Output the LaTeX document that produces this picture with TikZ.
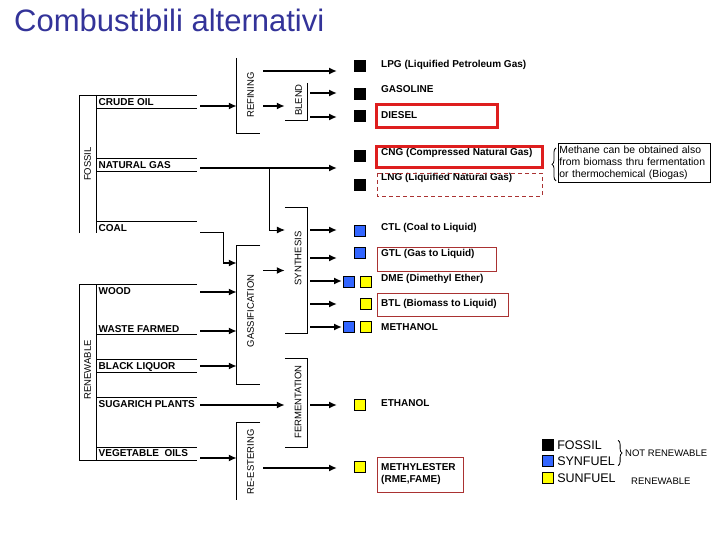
\documentclass[tikz,border=0pt]{standalone}
\usepackage{fontspec}
\setmainfont{Liberation Sans}
\usepackage{tikz}
\usepackage{xcolor}
\usetikzlibrary{arrows.meta,positioning,decorations.pathreplacing}

\definecolor{titleblue}{RGB}{51,51,153}
\definecolor{synblue}{RGB}{51,102,255}
\definecolor{sunyellow}{RGB}{255,255,0}
\definecolor{markred}{RGB}{222,30,30}
\definecolor{darkred}{RGB}{170,50,50}

\begin{document}
\begin{tikzpicture}[
    x=1pt, y=-1pt,
    srctext/.style={anchor=west, inner sep=0pt, text height=7.2pt, text depth=0pt, font=\fontsize{10}{12}\selectfont\bfseries},
    prodtext/.style={srctext},
    vlabel/.style={rotate=90, inner sep=0pt, text height=6.8pt, text depth=0pt, font=\fontsize{9.5}{11}\selectfont},
    keytext/.style={anchor=west, inner sep=0pt, text height=8.9pt, text depth=0pt, font=\fontsize{12.5}{14}\selectfont},
    tagtext/.style={anchor=west, inner sep=0pt, text height=6.8pt, text depth=0pt, font=\fontsize{9.5}{11}\selectfont},
    proc/.style={rectangle, inner sep=0pt},
    note/.style={rectangle, draw, line width=0.8pt, text width=150pt, minimum height=39pt, inner sep=1pt, align=left, font=\fontsize{10.4}{12}\selectfont},
    rule/.style={draw, line width=0.8pt},
    line/.style={draw, line width=1.7pt, -{Latex[length=8pt,width=7pt]}, shorten <=3pt},
    fossilbox/.style={rectangle, draw=black, fill=black, line width=0.6pt, minimum size=11.5pt, inner sep=0pt},
    synbox/.style={fossilbox, fill=synblue},
    sunbox/.style={fossilbox, fill=sunyellow},
    hilite/.style={draw=markred, line width=3pt},
    thinmark/.style={draw=darkred, line width=0.8pt},
    brace/.style={draw, line width=0.8pt, decorate, decoration={brace, amplitude=4pt}}
]
\useasboundingbox (0,0) rectangle (720,540);

\node [anchor=base west, inner sep=0pt, text=titleblue, font=\fontsize{31}{36}\selectfont] (title) at (14,32) {Combustibili alternativi};

% sources
\path [rule] (79,233) -- (79,95) -- (197,95);
\path [rule] (96,95) -- (96,233);
\foreach \y in {108,158,171,221}
    \path [rule] (96,\y) -- (197,\y);
\path [rule] (197,284) -- (79,284) -- (79,460) -- (197,460);
\path [rule] (96,284) -- (96,460);
\foreach \y in {334,359,372,397,447}
    \path [rule] (96,\y) -- (197,\y);

\node [vlabel] (fossil) at (87.5,164) {FOSSIL};
\node [vlabel] (renew) at (87.5,370) {RENEWABLE};

\node [srctext] (crude) at (98.5,102) {CRUDE OIL};
\node [srctext] (natgas) at (98.5,165) {NATURAL GAS};
\node [srctext] (coal) at (98.5,228) {COAL};
\node [srctext] (wood) at (98.5,291) {WOOD};
\node [srctext] (waste) at (98.5,329) {WASTE FARMED};
\node [srctext] (liquor) at (98.5,366) {BLACK LIQUOR};
\node [srctext] (sugar) at (98.5,404) {SUGARICH PLANTS};
\node [srctext] (vegoil) at (98.5,453) {VEGETABLE\ \ OILS};

\coordinate (crude-out) at (197,106);
\coordinate (natgas-out) at (197,168);
\coordinate (coal-out) at (197,232);
\coordinate (wood-out) at (197,292);
\coordinate (waste-out) at (197,331);
\coordinate (liquor-out) at (197,366);
\coordinate (sugar-out) at (197,405);
\coordinate (vegoil-out) at (197,458);

% processes
\node [proc, minimum width=23pt, minimum height=75pt] (refining) at (248.5,95.5) {};
\node [proc, minimum width=22pt, minimum height=37pt] (blend) at (296,101.5) {};
\node [proc, minimum width=22pt, minimum height=125pt] (synth) at (296,270.5) {};
\node [proc, minimum width=23pt, minimum height=138pt] (gasif) at (248.5,315) {};
\node [proc, minimum width=22pt, minimum height=88pt] (ferm) at (296,403) {};
\node [proc, minimum width=23pt, minimum height=77pt] (reester) at (248.5,461.5) {};

\node [vlabel] (refining-lbl) at (250.5,95) {REFINING};
\node [vlabel] (blend-lbl) at (298.5,100) {BLEND};
\node [vlabel] (synth-lbl) at (298,258.5) {SYNTHESIS};
\node [vlabel] (gasif-lbl) at (250.5,311) {GASSIFICATION};
\node [vlabel] (ferm-lbl) at (298,402) {FERMENTATION};
\node [vlabel] (reester-lbl) at (250.5,462) {RE-ESTERING};

\path [rule] (refining.north west) |- (refining.south east);
\path [rule] (blend.north east) |- (blend.south west);
\path [rule] (synth.north west) -| (synth.south east) -- (synth.south west);
\path [rule] (gasif.north east) -| (gasif.south west) -- (gasif.south east);
\path [rule] (ferm.north west) -| (ferm.south east) -- (ferm.south west);
\path [rule] (reester.north east) -| (reester.south west);

% products
\node [fossilbox] (sq-lpg) at (360,66) {};
\node [fossilbox] (sq-gasoline) at (360,94) {};
\node [fossilbox] (sq-diesel) at (360,116) {};
\node [fossilbox] (sq-cng) at (360,156) {};
\node [fossilbox] (sq-lng) at (360,185) {};
\node [synbox] (sq-ctl) at (360,231) {};
\node [synbox] (sq-gtl) at (360,253) {};
\node [synbox] (sq-dme) at (349,282) {};
\node [sunbox] (sq-dme2) at (366,282) {};
\node [sunbox] (sq-btl) at (366,304) {};
\node [synbox] (sq-methanol) at (349,327) {};
\node [sunbox] (sq-methanol2) at (366,327) {};
\node [sunbox] (sq-ethanol) at (360,405) {};
\node [sunbox] (sq-mester) at (360,467) {};

\node [prodtext] (lpg) at (381,64) {LPG (Liquified Petroleum Gas)};
\node [prodtext] (gasoline) at (381,89) {GASOLINE};
\node [prodtext] (diesel) at (381,115) {DIESEL};
\node [prodtext] (cng) at (381,152) {CNG (Compressed Natural Gas)};
\node [prodtext] (lng) at (381,177) {LNG (Liquified Natural Gas)};
\node [prodtext] (ctl) at (381,227) {CTL (Coal to Liquid)};
\node [prodtext] (gtl) at (381,253) {GTL (Gas to Liquid)};
\node [prodtext] (dme) at (381,278) {DME (Dimethyl Ether)};
\node [prodtext] (btl) at (381,303) {BTL (Biomass to Liquid)};
\node [prodtext] (methanol) at (381,327) {METHANOL};
\node [prodtext] (ethanol) at (381,403) {ETHANOL};
\node [prodtext, anchor=north west, text height=, align=left] (mester) at (381,463) {METHYLESTER\\(RME,FAME)};

\path [hilite] (376,105) rectangle (497,128);
\path [hilite] (376,147) rectangle (542,168);
\path [thinmark, dash pattern=on 4pt off 3pt] (377,173) rectangle (542,196);
\path [thinmark] (377,247) rectangle (496,271);
\path [thinmark] (377,293) rectangle (508,316);
\path [thinmark] (377,457) rectangle (463,492);

\coordinate (lpg-in) at (337,71);
\coordinate (gasoline-in) at (337,93);
\coordinate (diesel-in) at (337,117);
\coordinate (natgas-in) at (337,168);
\coordinate (ctl-in) at (337,230);
\coordinate (gtl-in) at (337,258);
\coordinate (dme-in) at (342,281);
\coordinate (btl-in) at (337,304);
\coordinate (methanol-in) at (342,327);
\coordinate (ethanol-in) at (337,405);
\coordinate (mester-in) at (337,468);

% connectors
\path [line] (crude-out) -- (crude-out -| refining.west);
\path [line] (refining.east |- lpg-in) -- (lpg-in);
\path [line] (refining.east |- crude-out) -- (blend.west |- crude-out);
\path [line] (blend.east |- gasoline-in) -- (gasoline-in);
\path [line] (blend.east |- diesel-in) -- (diesel-in);

\path [line] (natgas-out) -- (natgas-in);
\coordinate (natgas-split) at (269,168);
\path [line, line width=0.8pt, shorten <=0pt] (natgas-split) |- (synth.west |- ctl-in);

\coordinate (coal-bend) at (223,263);
\path [rule, shorten <=3pt] (coal-out) -| (coal-bend);
\path [line, shorten <=0pt] (coal-bend) -- (coal-bend -| gasif.west);
\path [line] (wood-out) -- (wood-out -| gasif.west);
\path [line] (waste-out) -- (waste-out -| gasif.west);
\path [line] (liquor-out) -- (liquor-out -| gasif.west);
\path [line] (gasif.east |- synth) -- (synth.west);

\foreach \p in {ctl,gtl,dme,btl,methanol}
    \path [line] (synth.east |- \p-in) -- (\p-in);

\path [line] (sugar-out) -- (sugar-out -| ferm.west);
\path [line] (ferm.east |- ethanol-in) -- (ethanol-in);
\path [line] (vegoil-out) -- (vegoil-out -| reester.west);
\path [line] (reester.east |- mester-in) -- (mester-in);

% biogas note
\node [note, anchor=north west] (biogas) at (558,143) {Methane can be obtained also\\from biomass thru fermentation\\or thermochemical (Biogas)};
\path [brace] ([shift={(-2,-2)}]biogas.south west) -- ([shift={(-2,5)}]biogas.north west);

% legend
\node [fossilbox] (key-fossil) at (548,445) {};
\node [synbox] (key-syn) at (548,461) {};
\node [sunbox] (key-sun) at (548,478) {};
\node [keytext, right=3pt of key-fossil] (key-fossil-t) {FOSSIL};
\node [keytext, right=3pt of key-syn] (key-syn-t) {SYNFUEL};
\node [keytext, right=3pt of key-sun] (key-sun-t) {SUNFUEL};
\path [brace] ([xshift=3pt]key-syn-t.east |- key-fossil-t.north) -- ([xshift=3pt]key-syn-t.south east);
\node [tagtext] (key-notrenew) at (625,453) {NOT RENEWABLE};
\node [tagtext] (key-renew) at (631,481) {RENEWABLE};

\end{tikzpicture}
\end{document}
